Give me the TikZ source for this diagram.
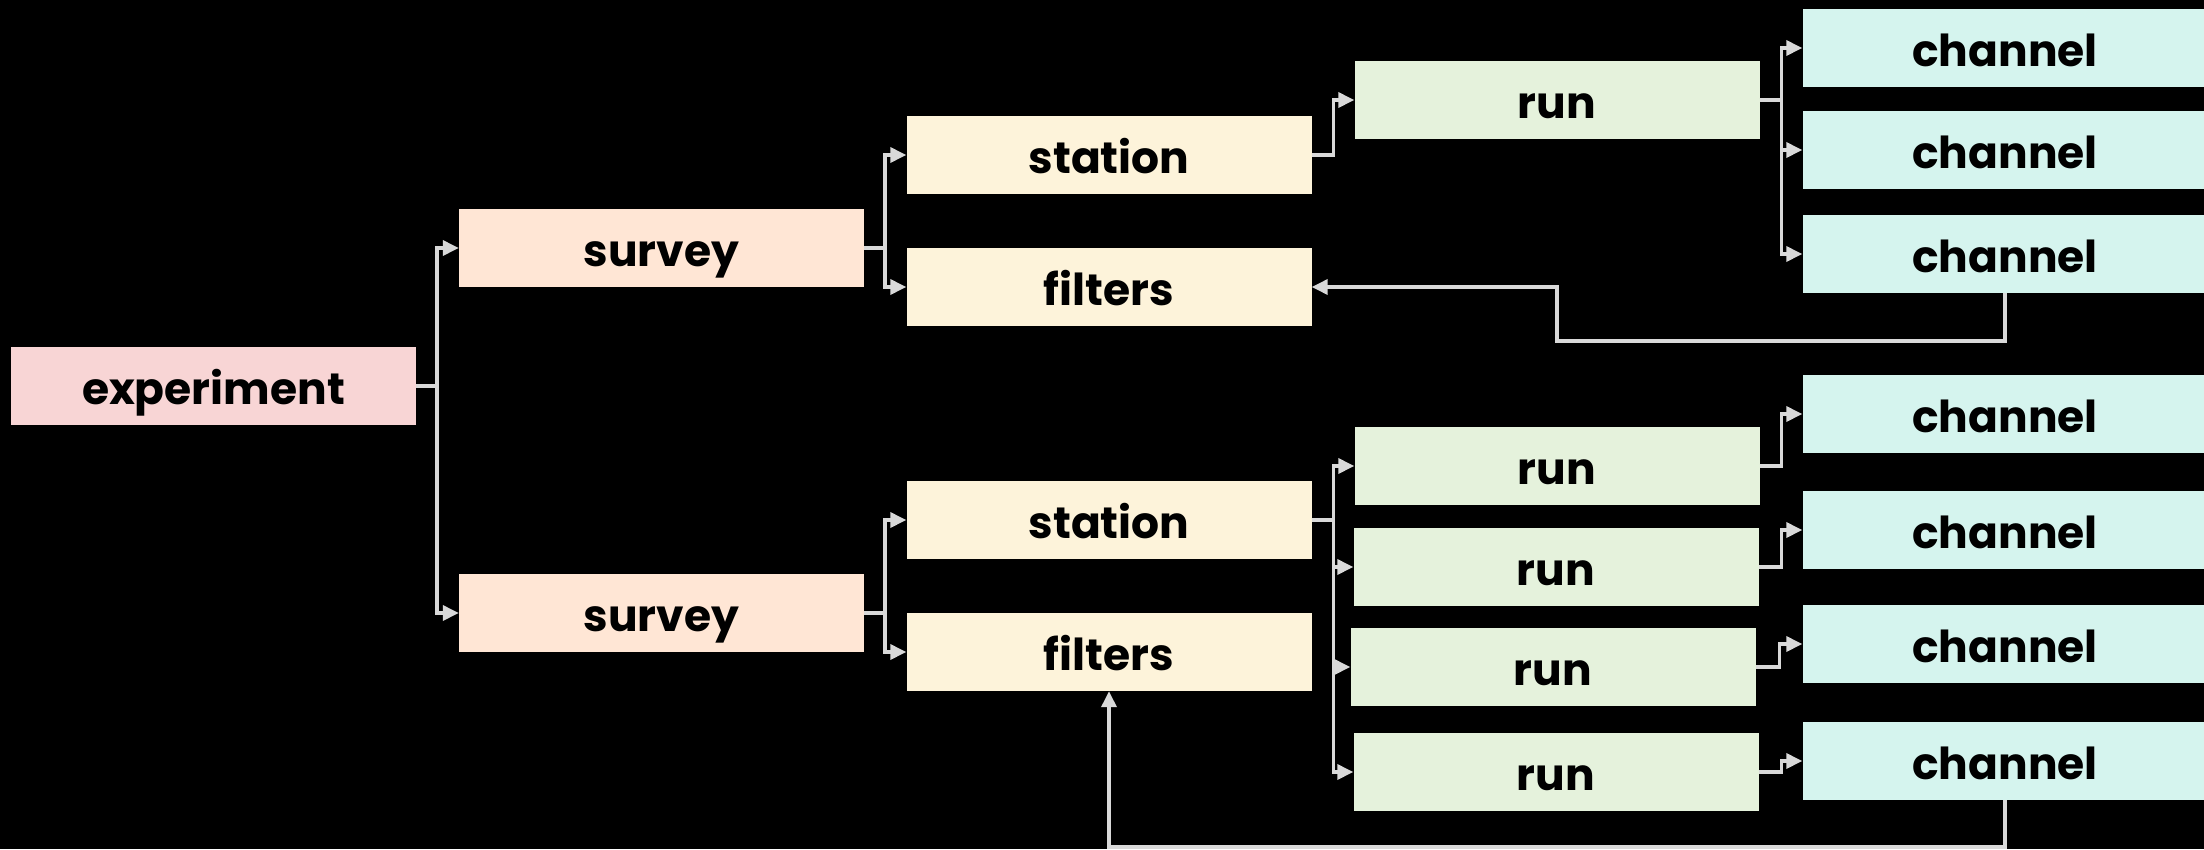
\documentclass[tikz,border=0pt]{standalone}
\usepackage{fontspec}
\setmainfont{Poppins}
\usetikzlibrary{arrows.meta}
\definecolor{cexp}{RGB}{248,213,213}
\definecolor{csurv}{RGB}{255,230,213}
\definecolor{csta}{RGB}{253,243,218}
\definecolor{crun}{RGB}{229,242,220}
\definecolor{cchan}{RGB}{213,244,238}
\definecolor{clink}{RGB}{217,217,217}
\tikzset{
  box/.style={rectangle, minimum width=405pt, minimum height=78pt, inner sep=0pt,
    text height=40pt, text depth=4pt,
    font=\fontsize{44}{50}\selectfont\bfseries, text=black},
  link/.style={draw=clink, line width=3.5pt, -{Triangle[length=16pt,width=15pt]}}
}
\begin{document}
\begin{tikzpicture}[x=1pt,y=-1pt]
  \useasboundingbox (0,0) rectangle (2204,849);
  \clip (0,0) rectangle (2204,849);
  \fill[black] (0,0) rectangle (2204,849);

  % hierarchy boxes
  \node[box, fill=cexp] (exp) at (213.5,386) {experiment};

  \node[box, fill=csurv] (sv1) at (661.5,248) {survey};
  \node[box, fill=csurv] (sv2) at (661.5,613) {survey};

  \node[box, fill=csta] (st1) at (1109,155) {station};
  \node[box, fill=csta] (fl1) at (1109,287) {filters};
  \node[box, fill=csta] (st2) at (1109,520) {station};
  \node[box, fill=csta] (fl2) at (1109,652) {filters};

  \node[box, fill=crun] (ra) at (1557,100) {run};
  \node[box, fill=crun] (rb1) at (1557,466) {run};
  \node[box, fill=crun] (rb2) at (1556,567) {run};
  \node[box, fill=crun] (rb3) at (1553,667) {run};
  \node[box, fill=crun] (rb4) at (1556,772) {run};

  \node[box, fill=cchan] (c1) at (2005,48) {channel};
  \node[box, fill=cchan] (c2) at (2005,150) {channel};
  \node[box, fill=cchan] (c3) at (2005,254) {channel};
  \node[box, fill=cchan] (c4) at (2005,414) {channel};
  \node[box, fill=cchan] (c5) at (2005,530) {channel};
  \node[box, fill=cchan] (c6) at (2005,644) {channel};
  \node[box, fill=cchan] (c7) at (2005,761) {channel};

  % experiment to surveys
  \draw[link] (exp.east) -- ++(21,0) |- (sv1.west);
  \draw[link] (exp.east) -- ++(21,0) |- (sv2.west);

  % surveys to stations and filters
  \draw[link] (sv1.east) -- ++(21,0) |- (st1.west);
  \draw[link] (sv1.east) -- ++(21,0) |- (fl1.west);
  \draw[link] (sv2.east) -- ++(21,0) |- (st2.west);
  \draw[link] (sv2.east) -- ++(21,0) |- (fl2.west);

  % stations to runs
  \draw[link] (st1.east) -- ++(22,0) |- (ra.west);
  \foreach \r in {rb1,rb2,rb3,rb4}
    \draw[link] (st2.east) -- ++(22,0) |- (\r.west);

  % runs to channels
  \foreach \c in {c1,c2,c3}
    \draw[link] (ra.east) -- ++(22,0) |- (\c.west);
  \draw[link] (rb1.east) -- ([xshift=-21pt]c4.west |- rb1.east) |- (c4.west);
  \draw[link] (rb2.east) -- ([xshift=-21pt]c5.west |- rb2.east) |- (c5.west);
  \draw[link] (rb3.east) -- ([xshift=-23pt]c6.west |- rb3.east) |- (c6.west);
  \draw[link] (rb4.east) -- ([xshift=-21pt]c7.west |- rb4.east) |- (c7.west);

  % channels feeding back into filters
  \draw[link] (c3.south) -- ++(0,48) -| (ra.south |- fl1.east) -- (fl1.east);
  \draw[link] (c7.south) -- ++(0,47) -| (fl2.south);
\end{tikzpicture}
\end{document}
